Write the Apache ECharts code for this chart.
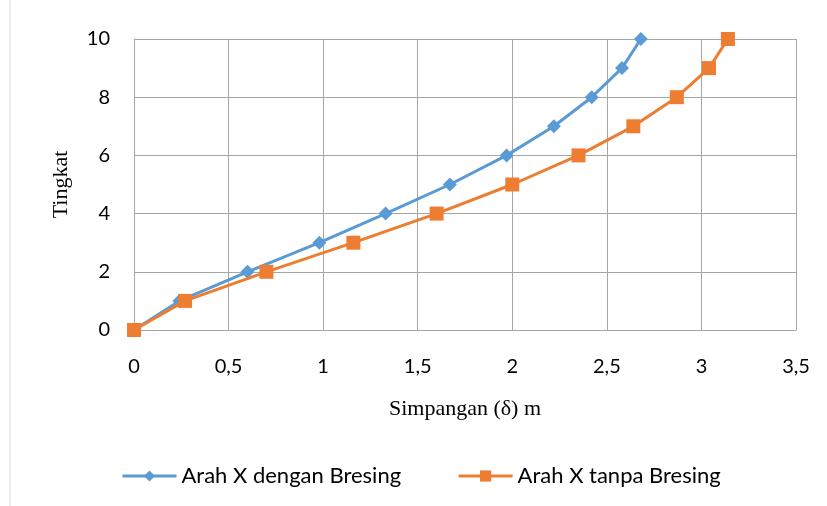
<!DOCTYPE html>
<html>
<head>
<meta charset="utf-8">
<script src="https://cdn.jsdelivr.net/npm/echarts@6/dist/echarts.min.js"></script>
<style>
  html, body { margin: 0; padding: 0; background: #fff; }
  #chart { width: 827px; height: 506px; }
</style>
</head>
<body>
<div id="chart"></div>
<script>
// data
var tingkat = [0, 1, 2, 3, 4, 5, 6, 7, 8, 9, 10];
var denganBresing = [0, 0.24, 0.60, 0.98, 1.33, 1.67, 1.97, 2.22, 2.42, 2.58, 2.68];
var tanpaBresing = [0, 0.27, 0.70, 1.16, 1.60, 2.00, 2.35, 2.64, 2.87, 3.04, 3.14];
var seriesNames = ["Arah X dengan Bresing", "Arah X tanpa Bresing"];

function pairs(xs) {
  return xs.map(function (x, i) { return [x, tingkat[i]]; });
}

var mychart = echarts.init(document.getElementById("chart"));
var gridColor = "#a6a6a6";
var sans = "Lato";

var option = {
  animation: false,
  grid: { left: 134, right: 31, top: 39, bottom: 176 },
  legend: {
    top: 460,
    left: 116,
    itemGap: 56,
    itemWidth: 54,
    itemHeight: 14,
    lineStyle: { width: 3 },
    textStyle: { fontFamily: sans, fontSize: 22, color: "#000" },
    data: seriesNames
  },
  xAxis: {
    type: "value",
    min: 0, max: 3.5, interval: 0.5,
    name: "Simpangan (δ) m",
    nameLocation: "middle",
    nameGap: 68,
    nameTextStyle: { fontFamily: "Liberation Serif", fontSize: 22, color: "#000" },
    axisLine: { show: true, lineStyle: { color: gridColor } },
    axisTick: { show: false },
    splitLine: { show: true, lineStyle: { color: gridColor, width: 1 } },
    axisLabel: {
      margin: 27,
      fontFamily: sans, fontSize: 20, color: "#000",
      formatter: function (v) { return String(v).replace(".", ","); }
    }
  },
  yAxis: {
    type: "value",
    min: 0, max: 10, interval: 2,
    name: "Tingkat",
    nameLocation: "middle",
    nameGap: 62,
    nameRotate: 90,
    nameTextStyle: { fontFamily: "Liberation Serif", fontSize: 22, color: "#000" },
    axisLine: { show: true, lineStyle: { color: gridColor } },
    axisTick: { show: false },
    splitLine: { show: true, lineStyle: { color: gridColor, width: 1 } },
    axisLabel: { margin: 24, fontFamily: sans, fontSize: 20, color: "#000" }
  },
  graphic: [
    {
      type: "line",
      shape: { x1: 10, y1: 0, x2: 10, y2: 506 },
      style: { stroke: "#d9d9d9", lineWidth: 1 }
    }
  ],
  series: [
    {
      name: seriesNames[0],
      type: "line",
      data: pairs(denganBresing),
      color: "#5b9bd5",
      lineStyle: { width: 3 },
      symbol: "diamond",
      symbolSize: 14,
      z: 2
    },
    {
      name: seriesNames[1],
      type: "line",
      data: pairs(tanpaBresing),
      color: "#ed7d31",
      lineStyle: { width: 3 },
      symbol: "rect",
      symbolSize: 14,
      z: 3
    }
  ]
};
mychart.setOption(option);
</script>
</body>
</html>
